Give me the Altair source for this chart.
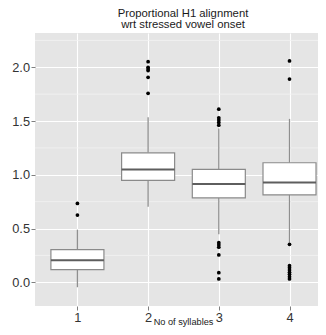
import altair as alt
import pandas as pd

# ---- data ----
syllables = [1, 2, 3, 4]
q1 = [0.117, 0.948, 0.786, 0.814]
median = [0.204, 1.05, 0.914, 0.929]
q3 = [0.303, 1.204, 1.05, 1.112]
whisker_lo = [-0.046, 0.703, 0.446, 0.37]
whisker_hi = [0.49, 1.535, 1.431, 1.52]

outlier_group = [1, 1,
                 2, 2, 2, 2, 2, 2,
                 3, 3, 3, 3, 3, 3, 3, 3, 3, 3, 3,
                 4, 4, 4, 4, 4, 4, 4, 4, 4, 4]
outlier_value = [0.625, 0.734,
                 2.052, 2.0, 1.985, 1.97, 1.907, 1.758,
                 1.61, 1.53, 1.51, 1.487, 1.462, 0.368, 0.347, 0.326, 0.254, 0.089, 0.031,
                 2.059, 1.891, 0.353, 0.155, 0.136, 0.114, 0.093, 0.074, 0.052, 0.031]

y_ticks = [0.0, 0.5, 1.0, 1.5, 2.0]
y_minor = [0.25, 0.75, 1.25, 1.75, 2.25]

title_lines = ["Proportional H1 alignment", "wrt stressed vowel onset"]
x_title = "No of syllables"

boxes = pd.DataFrame({"syl": syllables, "q1": q1, "med": median, "q3": q3,
                      "lo": whisker_lo, "hi": whisker_hi})
outliers = pd.DataFrame({"syl": outlier_group, "v": outlier_value})
minor = pd.DataFrame({"v": y_minor})

FONT = "Liberation Sans"
xscale = alt.Scale(domain=[0.4, 4.403], nice=False, zero=False)
yscale = alt.Scale(domain=[-0.2205, 2.319], nice=False, zero=False)
xaxis = alt.Axis(values=syllables, format="d", title=x_title,
                 titleX=148, titleY=18.5, titleAlign="center",
                 titleBaseline="alphabetic")
yaxis = alt.Axis(values=y_ticks, format=".1f", title=None)

minor_layer = alt.Chart(minor).mark_rule(color="#F2F2F2", strokeWidth=0.8).encode(
    y=alt.Y("v:Q", scale=yscale, axis=yaxis)
)

base = alt.Chart(boxes).transform_calculate(
    xlo="datum.syl - 0.375", xhi="datum.syl + 0.375"
)

whisk_lo = base.mark_rule(color="#8f8f8f", strokeWidth=1.3).encode(
    x=alt.X("syl:Q", scale=xscale, axis=xaxis),
    y=alt.Y("lo:Q", scale=yscale, axis=yaxis),
    y2="q1:Q",
)
whisk_hi = base.mark_rule(color="#8f8f8f", strokeWidth=1.3).encode(
    x=alt.X("syl:Q", scale=xscale, axis=xaxis),
    y=alt.Y("q3:Q", scale=yscale, axis=yaxis),
    y2="hi:Q",
)
box = base.mark_rect(fill="white", stroke="#8a8a8a", strokeWidth=1.2).encode(
    x=alt.X("xlo:Q", scale=xscale, axis=xaxis),
    x2="xhi:Q",
    y=alt.Y("q1:Q", scale=yscale, axis=yaxis),
    y2="q3:Q",
)
med = base.mark_rule(color="#5e5e5e", strokeWidth=2).encode(
    x=alt.X("xlo:Q", scale=xscale, axis=xaxis),
    x2="xhi:Q",
    y=alt.Y("med:Q", scale=yscale, axis=yaxis),
)
pts = alt.Chart(outliers).mark_circle(color="black", opacity=1, size=14).encode(
    x=alt.X("syl:Q", scale=xscale, axis=xaxis),
    y=alt.Y("v:Q", scale=yscale, axis=yaxis),
)

chart = alt.layer(minor_layer, whisk_lo, whisk_hi, box, med, pts).properties(
    width=283,
    height=273,
    autosize=alt.AutoSizeParams(type="none"),
    padding={"left": 27, "top": 25, "right": 0, "bottom": 21},
    background="white",
    title=alt.TitleParams(
        title_lines, font=FONT, fontSize=11.3, fontWeight="normal",
        color="#1a1a1a", anchor="middle", lineHeight=11.5, offset=-6.4,
        baseline="alphabetic", dx=6.5,
    ),
).configure_view(
    fill="#E5E5E5", stroke=None
).configure_axis(
    domain=False,
    grid=True,
    gridColor="white",
    gridWidth=1.1,
    gridOpacity=1,
    tickColor="#7f7f7f",
    tickSize=4,
    tickWidth=1,
    labelPadding=1.5,
    labelFont=FONT,
    labelFontSize=12.8,
    labelColor="#333333",
    titleFont=FONT,
    titleFontSize=9.2,
    titleFontWeight="normal",
    titleColor="#1a1a1a",
)

chart.save("out.html", embed_options={"renderer": "svg", "actions": False})
